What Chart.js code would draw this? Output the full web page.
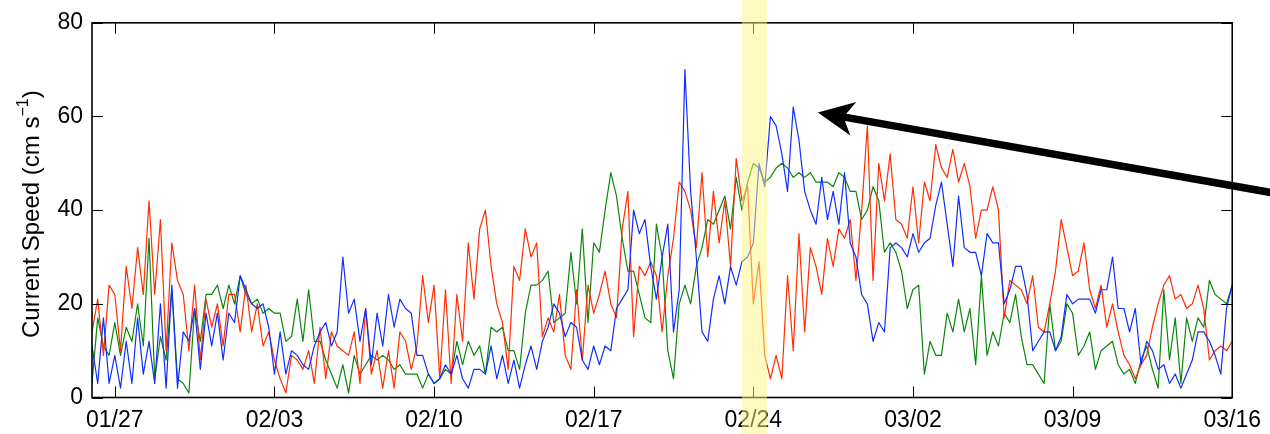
<!DOCTYPE html>
<html lang="en">
<head>
<meta charset="UTF-8">
<title>Current Speed</title>
<script src="https://cdn.jsdelivr.net/npm/chart.js"></script>
<style>
  body { margin: 0; background: #fff; }
  canvas { display: block; }
</style>
</head>
<body>
<canvas id="speedChart" width="1270" height="434"></canvas>
<script>
// days counted from 01/27, one sample every 6 hours starting at 01/26
const firstDay = -1;
const stepDay = 0.25;

const tickDays = [0, 7, 14, 21, 28, 35, 42, 49];
const tickLabels = ['01/27', '02/03', '02/10', '02/17', '02/24', '03/02', '03/09', '03/16'];
const yTicks = [0, 20, 40, 60, 80];

// current speed, cm/s
const speedRed = [
  14,21,9,24, 22,10,28,19, 32,22,42,22, 38,10,33,25, 22,10,24,8, 21,15,20,11, 22,22,14,24, 14,20,11,14,
  8,4,1,9, 8,6,10,3, 15,4,14,11, 10,9,14,3, 19,5,10,2, 10,2,14,12, 6,11,26,16, 24,4,23,3,
  22,12,33,21, 36,40,28,20, 16,6,28,25, 36,30,33,13, 17,14,22,9, 6,23,8,24, 18,22,27,20, 17,36,44,13,
  28,26,29,26, 14,26,34,46, 44,40,32,48, 30,44,33,42, 28,51,42,45, 20,29,9,4, 9,4,26,10, 35,14,32,28,
  22,34,28,36, 34,38,25,40, 58,25,50,42, 52,38,37,34, 45,33,46,42, 54,49,47,53, 46,50,45,34, 40,40,45,40,
  17,25,24,23, 20,26,15,14, 20,27,38,32, 26,27,33,23, 19,24,15,20, 14,9,7,4, 7,9,15,20, 24,26,21,22,
  19,20,24,19, 8,10,11,10, 12
];
const speedBlue = [
  11,3,17,3, 9,2,12,3, 17,5,12,3, 20,2,24,2, 14,12,19,6, 18,11,18,8, 18,16,26,23, 20,19,20,15,
  5,14,5,10, 9,7,6,11, 14,16,11,14, 30,18,21,12, 19,7,18,11, 22,15,21,19, 18,9,9,5, 3,4,7,5,
  9,4,2,6, 6,5,11,4, 9,3,8,2, 7,11,6,12, 15,20,18,13, 16,15,8,6, 11,7,11,10, 19,21,23,40,
  35,38,28,21, 30,37,14,23, 70,44,30,14, 12,21,26,20, 28,24,29,30, 33,50,45,60, 58,52,44,62, 55,44,40,37,
  47,38,44,37, 48,33,30,22, 20,12,16,14, 32,33,32,30, 35,31,33,34, 41,46,37,28, 43,32,31,31, 26,35,33,33,
  20,23,28,28, 22,10,12,14, 14,10,13,22, 20,21,21,21, 18,23,23,30, 19,19,14,19, 7,12,10,6, 7,3,5,2,
  5,8,14,14, 12,9,5,19, 24
];
const speedGreen = [
  3,17,11,9, 16,9,15,12, 20,11,34,4, 13,8,23,4, 3,1,19,12, 22,22,24,19, 24,20,26,22, 20,21,18,19,
  18,18,12,13, 21,12,23,12, 12,8,5,2, 7,1,9,5, 7,9,8,9, 8,6,7,5, 5,5,2,5, 3,4,6,5,
  12,7,12,9, 11,5,15,14, 15,10,10,6, 18,24,24,25, 27,16,17,18, 31,20,36,16, 33,31,40,48, 43,34,27,27,
  22,17,16,37, 30,10,4,20, 24,20,28,32, 38,37,40,43, 36,47,40,46, 50,49,46,47, 49,50,49,47, 48,47,48,46,
  46,46,45,48, 47,44,44,38, 40,45,42,31, 33,31,27,19, 23,24,5,12, 9,9,18,14, 21,14,19,7, 26,9,14,11,
  18,16,22,13, 7,7,5,3, 20,10,12,20, 18,9,11,14, 6,10,11,12, 7,5,6,3, 8,11,6,2, 23,8,17,3,
  17,12,17,15, 25,22,21,20, 24
];

// highlighted day and the arrow (in day / speed units)
const bandDays = [27.5, 28.6];
const arrowTail = [51, 43.5];
const arrowHead = [30.83, 60.85];

const FONT = "'Liberation Sans', Arial, Helvetica, sans-serif";

function toPoints(values) {
  return values.map((v, i) => ({ x: firstDay + i * stepDay, y: v }));
}

const decor = {
  id: 'decor',
  afterDatasetsDraw(chart) {
    const { ctx, chartArea: a, scales } = chart;
    ctx.save();
    ctx.strokeStyle = '#000';
    ctx.lineWidth = 1;
    ctx.beginPath();
    tickDays.forEach(d => {
      const x = Math.round(scales.x.getPixelForValue(d)) + 0.5;
      ctx.moveTo(x, a.bottom); ctx.lineTo(x, a.bottom - 11);
      ctx.moveTo(x, a.top); ctx.lineTo(x, a.top + 11);
    });
    yTicks.forEach(v => {
      const y = Math.round(scales.y.getPixelForValue(v)) + 0.5;
      ctx.moveTo(a.left, y); ctx.lineTo(a.left + 11, y);
      ctx.moveTo(a.right, y); ctx.lineTo(a.right - 11, y);
    });
    ctx.stroke();
    ctx.lineWidth = 1.6;
    ctx.strokeRect(a.left, a.top, a.right - a.left, a.bottom - a.top);
    ctx.restore();
  },
  afterDraw(chart) {
    const { ctx, chartArea: a, scales } = chart;
    ctx.save();

    // yellow band over 02/24
    const x0 = scales.x.getPixelForValue(bandDays[0]);
    const x1 = scales.x.getPixelForValue(bandDays[1]);
    ctx.fillStyle = 'rgba(255, 245, 130, 0.5)';
    ctx.fillRect(x0, 0, x1 - x0, chart.height);

    // arrow
    const tx = scales.x.getPixelForValue(arrowTail[0]);
    const ty = scales.y.getPixelForValue(arrowTail[1]);
    const hx = scales.x.getPixelForValue(arrowHead[0]);
    const hy = scales.y.getPixelForValue(arrowHead[1]);
    const len = Math.hypot(tx - hx, ty - hy);
    const ux = (tx - hx) / len, uy = (ty - hy) / len;
    const px = -uy, py = ux;
    ctx.strokeStyle = '#000';
    ctx.lineWidth = 7.5;
    ctx.beginPath();
    ctx.moveTo(hx + ux * 24, hy + uy * 24);
    ctx.lineTo(tx, ty);
    ctx.stroke();
    ctx.fillStyle = '#000';
    ctx.beginPath();
    ctx.moveTo(hx, hy);
    ctx.lineTo(hx + ux * 36 + px * 17, hy + uy * 36 + py * 17);
    ctx.lineTo(hx + ux * 26, hy + uy * 26);
    ctx.lineTo(hx + ux * 36 - px * 17, hy + uy * 36 - py * 17);
    ctx.closePath();
    ctx.fill();

    // y axis title with superscript
    const main = 'Current Speed (cm s';
    const sup = '\u22121';
    const big = '24px ' + FONT, small = '16px ' + FONT;
    ctx.font = big;
    const w1 = ctx.measureText(main).width;
    const w3 = ctx.measureText(')').width;
    ctx.font = small;
    const w2 = ctx.measureText(sup).width;
    const total = w1 + w2 + w3;
    ctx.translate(39, (a.top + a.bottom) / 2 + 4);
    ctx.rotate(-Math.PI / 2);
    ctx.fillStyle = '#000';
    ctx.textBaseline = 'alphabetic';
    ctx.textAlign = 'left';
    let cx = -total / 2;
    ctx.font = big;
    ctx.fillText(main, cx, 0);
    cx += w1;
    ctx.font = small;
    ctx.fillText(sup, cx, -11);
    cx += w2;
    ctx.font = big;
    ctx.fillText(')', cx, 0);
    ctx.restore();
  }
};

const lineStyle = { borderWidth: 1.2, pointRadius: 0, tension: 0, borderJoinStyle: 'round' };

new Chart(document.getElementById('speedChart'), {
  type: 'line',
  data: {
    datasets: [
      Object.assign({ label: 'blue', data: toPoints(speedBlue), borderColor: 'rgb(15, 45, 255)' }, lineStyle),
      Object.assign({ label: 'red', data: toPoints(speedRed), borderColor: 'rgb(255, 45, 0)' }, lineStyle),
      Object.assign({ label: 'green', data: toPoints(speedGreen), borderColor: 'rgb(10, 135, 10)' }, lineStyle)
    ]
  },
  options: {
    responsive: false,
    devicePixelRatio: 1,
    animation: false,
    parsing: false,
    layout: { padding: { left: 0, right: 29, top: 21, bottom: 0 } },
    plugins: { legend: { display: false }, tooltip: { enabled: false } },
    scales: {
      x: {
        type: 'linear',
        min: firstDay,
        max: 49,
        grid: { display: false, drawTicks: false },
        border: { display: false },
        afterBuildTicks: s => { s.ticks = tickDays.map(v => ({ value: v })); },
        afterFit: s => { s.height = 36.5; },
        ticks: {
          color: '#000',
          font: { family: FONT, size: 23 },
          padding: 9,
          maxRotation: 0,
          autoSkip: false,
          callback: v => tickLabels[tickDays.indexOf(v)]
        }
      },
      y: {
        min: 0,
        max: 80,
        grid: { display: false, drawTicks: false },
        border: { display: false },
        afterBuildTicks: s => { s.ticks = yTicks.map(v => ({ value: v })); },
        afterFit: s => { s.width = 92; },
        ticks: {
          color: '#000',
          font: { family: FONT, size: 23 },
          padding: 9
        }
      }
    }
  },
  plugins: [decor]
});
</script>
</body>
</html>
